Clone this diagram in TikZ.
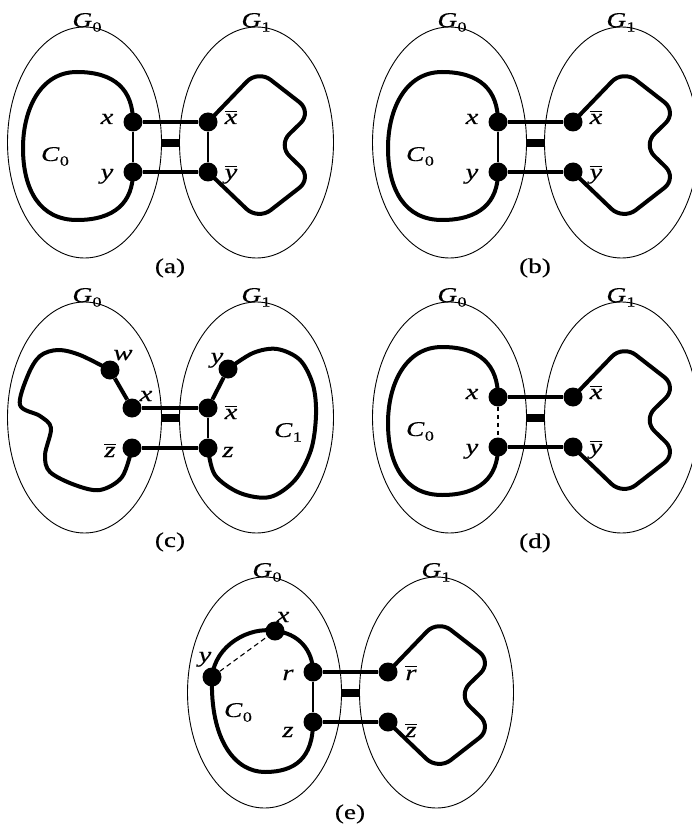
\documentclass[tikz,border=0pt]{standalone}
\usepackage{fontspec}
\setmainfont{Liberation Serif}[FakeStretch=1.3, FakeBold=0.3]

% italic letter with a small upright subscript
\newcommand\gsub[2]{\textit{#1}\kern0.3pt\raisebox{-0.22em}{\fontsize{14pt}{15pt}\selectfont #2}}
% italic letter with a bar over it
\newcommand\barred[1]{\setbox0\hbox{\textit{#1}}\vbox{\hrule width \wd0 height 1pt \kern 2.2pt\box0}}

\tikzset{
  ell/.style={line width=0.9pt},
  vtx/.style={circle, fill=black, inner sep=0pt, minimum size=19pt},
  cyc/.style={line width=4pt, line join=round, line cap=round},
  link/.style={line width=4pt},
  thinl/.style={line width=1.4pt},
  dashl/.style={line width=1.1pt, dash pattern=on 4.5pt off 3.5pt},
  bridge/.style={line width=8pt},
  lab/.style={anchor=base, inner sep=0pt, font=\fontsize{21pt}{24pt}\selectfont},
  vlab/.style={lab, font=\fontsize{22pt}{26pt}\selectfont},
}

% the two vertex sets, the double bridge between them, and the caption
\newcommand\panelframe[3]{%
  \draw[ell] (84.5,142.5) ellipse [x radius=77, y radius=115.5];
  \draw[ell] (256.5,142.5) ellipse [x radius=77, y radius=115.5];
  \draw[bridge] (161.5,143) -- (179.5,143);
  \node[lab] (#1G0) at (87,27) {\gsub{G}{0}};
  \node[lab] (#1G1) at (256,27) {\gsub{G}{1}};
  \node[lab] (#1cap) at (170,#3) {(#2)};
}

% heart-shaped cycle in G1 between two vertices
\newcommand\heart[2]{%
  \draw[cyc, rounded corners=16pt] (#1.center) -- (258,70) -- (312,112)
    -- (278,145) -- (312,178) -- (258,220) -- (#2.center);
}

% round cycle C0 in G0 between two vertices
\newcommand\roundcycle[2]{%
  \draw[cyc] (#1.center) .. controls (133,90) and (115,72) .. (77,72)
    .. controls (40,72) and (23,110) .. (23,148)
    .. controls (23,190) and (40,220) .. (77,220)
    .. controls (115,220) and (133,202) .. (#2.center);
}

% panels (a), (b), (d) share the same vertices
\newcommand\basicpanel[1]{%
  \node[vtx] (#1x) at (133,122) {};
  \node[vtx] (#1y) at (133,172) {};
  \node[vtx] (#1xb) at (208,122) {};
  \node[vtx] (#1yb) at (208,172) {};
  \roundcycle{#1x}{#1y}
  \heart{#1xb}{#1yb}
  \draw[link] (#1x) -- (#1xb);
  \draw[link] (#1y) -- (#1yb);
  \node[vlab] (#1lx) at (107,124) {\textit{x}};
  \node[vlab] (#1ly) at (107,179) {\textit{y}};
  \node[vlab] (#1lxb) at (231,124) {\barred{x}};
  \node[vlab] (#1lyb) at (231,179) {\barred{y}};
  \node[lab] (#1lc) at (55,161) {\gsub{C}{0}};
}

\begin{document}
\begin{tikzpicture}[x=1pt, y=-1pt]
\useasboundingbox (0,0) rectangle (692,834);

% (a)
\begin{scope}
  \panelframe{a}{a}{273}
  \basicpanel{a}
  \draw[thinl] (ax) -- (ay);
  \draw[thinl] (axb) -- (ayb);
\end{scope}

% (b)
\begin{scope}[shift={(365,0)}]
  \panelframe{b}{b}{273}
  \basicpanel{b}
  \draw[thinl] (bx) -- (by);
\end{scope}

% (c)
\begin{scope}[shift={(0,275)}]
  \panelframe{c}{c}{272}
  \node[vtx] (cw) at (110,95) {};
  \node[vtx] (cx) at (132,133) {};
  \node[vtx] (czb) at (132,173) {};
  \node[vtx] (cy) at (228,94) {};
  \node[vtx] (cxb) at (208,133) {};
  \node[vtx] (cz) at (208,173) {};
  \draw[cyc] plot[smooth, tension=0.55] coordinates {(cw.center) (80,80) (58,75) (40,81)
    (28,100) (20,130) (40,141) (51,153) (45,180) (50,197) (75,210) (100,215)
    (122,202) (czb.center)};
  \draw[cyc] plot[smooth, tension=0.55] coordinates {(cy.center) (253,78) (277,74)
    (300,85) (313,110) (316,140) (311,175) (295,205) (270,222) (240,218)
    (215,200) (cz.center)};
  \draw[link] (cw) -- (cx);
  \draw[link] (cy) -- (cxb);
  \draw[link] (cx) -- (cxb);
  \draw[link] (czb) -- (cz);
  \draw[thinl] (cxb) -- (cz);
  \node[vlab] (clw) at (123,85) {\textit{w}};
  \node[vlab] (clx) at (146,126) {\textit{x}};
  \node[vlab] (clzb) at (110,182) {\barred{z}};
  \node[vlab] (cly) at (217,88) {\textit{y}};
  \node[vlab] (clxb) at (231,144) {\barred{x}};
  \node[vlab] (clz) at (228,182) {\textit{z}};
  \node[lab] (clc) at (288,162) {\gsub{C}{1}};
\end{scope}

% (d)
\begin{scope}[shift={(365,275)}]
  \panelframe{d}{d}{273}
  \basicpanel{d}
  \draw[dashl] (dx) -- (dy);
\end{scope}

% (e)
\begin{scope}[shift={(180,550)}]
  \panelframe{e}{e}{269}
  \node[vtx] (er) at (133,122) {};
  \node[vtx] (ez) at (133,172) {};
  \node[vtx] (erb) at (208,122) {};
  \node[vtx] (ezb) at (208,172) {};
  \node[vtx] (ex) at (95,81) {};
  \node[vtx] (ey) at (32,127) {};
  \draw[cyc] (er.center) .. controls (133,100) and (118,83) .. (ex.center)
    .. controls (70,76) and (35,95) .. (ey.center)
    .. controls (30,190) and (55,222) .. (85,222)
    .. controls (115,222) and (133,208) .. (ez.center);
  \heart{erb}{ezb}
  \draw[link] (er) -- (erb);
  \draw[link] (ez) -- (ezb);
  \draw[thinl] (er) -- (ez);
  \draw[dashl, dash pattern=on 5pt off 3.5pt] (ey) -- (ex);
  \node[vlab] (elx) at (103,72) {\textit{x}};
  \node[vlab] (ely) at (25,112) {\textit{y}};
  \node[vlab] (elr) at (108,130) {\textit{r}};
  \node[vlab] (elz) at (108,187) {\textit{z}};
  \node[vlab] (elrb) at (231,130) {\barred{r}};
  \node[vlab] (elzb) at (231,187) {\barred{z}};
  \node[lab] (elc) at (58,167) {\gsub{C}{0}};
\end{scope}
\end{tikzpicture}
\end{document}
